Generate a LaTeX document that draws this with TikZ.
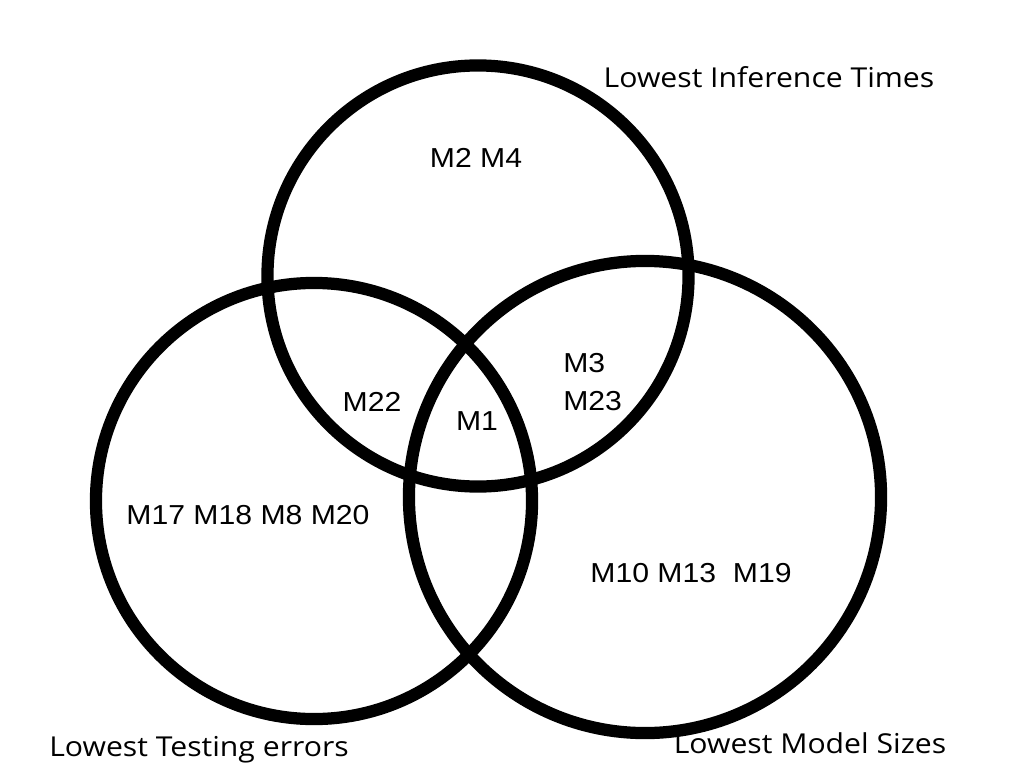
\documentclass[tikz,border=0pt]{standalone}
\usepackage{fontspec}
\setmainfont{Open Sans}[FakeStretch=1.1]
\newfontfamily\modelfont{Liberation Sans}[FakeStretch=1.1]
\usetikzlibrary{positioning}

\begin{document}
\begin{tikzpicture}[
    x=0.025cm, y=-0.025cm,
    setcircle/.style={circle, draw=black, line width=8.7pt, inner sep=0pt},
    setlabel/.style={font=\fontsize{19.5}{22}\selectfont, inner sep=0pt},
    models/.style={font=\modelfont\fontsize{19.5}{22}\selectfont, inner sep=0pt, align=left}
]
\useasboundingbox (0,0) rectangle (1024,768);

% Sets
\node[setcircle, minimum size=10.525cm] (infer) at (478,276) {};
\node[setcircle, minimum size=10.9cm] (errors) at (314,501) {};
\node[setcircle, minimum size=11.8cm] (size) at (645,497) {};

% Set names
\node[setlabel] (infername) at (769,77) {Lowest Inference Times};
\node[setlabel] (errorsname) at (199,750) {Lowest Testing errors};
\node[setlabel] (sizename) at (810,743) {Lowest Model Sizes};

% Models in each region
\node[models] (onlyinfer) at (476,158) {M2 M4};
\node[models] (infererr) at (372,402) {M22};
\node[models] (all) at (477,421) {M1};
\node[models, anchor=west] (infersize) at (563,382) {M3\\[5pt]M23};
\node[models] (onlyerr) at (248,515) {M17 M18 M8 M20};
\node[models] (onlysize) at (691,573) {M10 M13\ \ M19};

\end{tikzpicture}
\end{document}
